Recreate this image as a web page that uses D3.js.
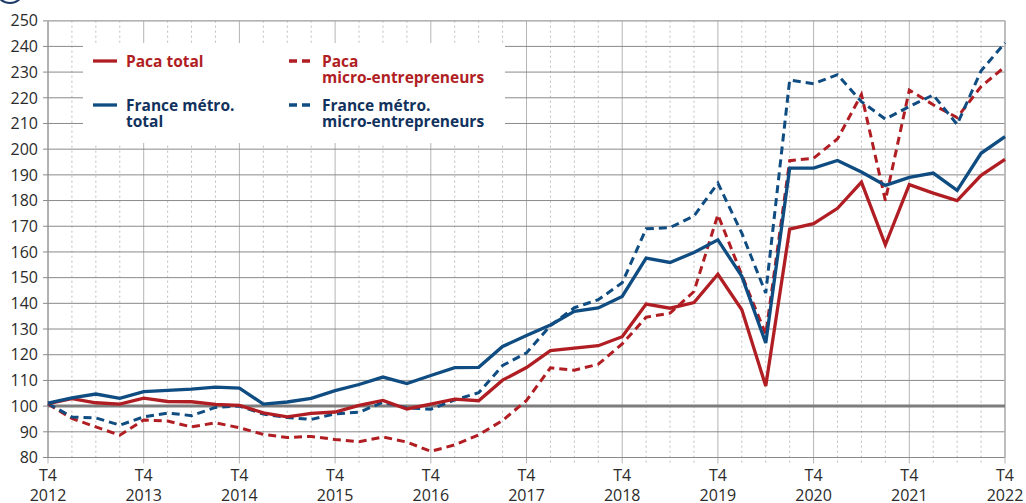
<!DOCTYPE html>
<html>
<head>
<meta charset="utf-8">
<script src="https://cdn.jsdelivr.net/npm/d3@7"></script>
<style>
    body { margin: 0; background: #fff; }
    text { font-family: "Open Sans", "Noto Sans", sans-serif; }
</style>
</head>
<body>
<div class="canvas"></div>
<script>
const periods = [
    '2012T4',
    '2013T1', '2013T2', '2013T3', '2013T4',
    '2014T1', '2014T2', '2014T3', '2014T4',
    '2015T1', '2015T2', '2015T3', '2015T4',
    '2016T1', '2016T2', '2016T3', '2016T4',
    '2017T1', '2017T2', '2017T3', '2017T4',
    '2018T1', '2018T2', '2018T3', '2018T4',
    '2019T1', '2019T2', '2019T3', '2019T4',
    '2020T1', '2020T2', '2020T3', '2020T4',
    '2021T1', '2021T2', '2021T3', '2021T4',
    '2022T1', '2022T2', '2022T3', '2022T4'
];

const pacaTotal = [
    101, 102.9, 101.3, 100.8, 103.1, 101.8, 101.7, 100.7, 100.3, 97.4,
    95.8, 97.2, 97.7, 100.3, 102.2, 98.9, 100.8, 102.7, 102.1, 110.1,
    115, 121.6, 122.6, 123.5, 127, 139.7, 138.1, 140.3, 151.3, 137.5,
    107.8, 168.9, 171, 177, 187.2, 162.8, 186.2, 182.9, 180, 189.8, 196
];

const pacaMicro = [
    100.8, 95.2, 91.9, 88.7, 94.6, 94.2, 91.9, 93.5, 91.6, 89,
    87.8, 88.2, 87, 86.1, 88, 86, 82.4, 84.9, 88.8, 94.4,
    102.2, 114.9, 114, 116.3, 124.2, 134.6, 136.2, 144.6, 174.5, 151,
    128, 195.5, 196.5, 204, 221.3, 180, 223, 217.3, 212.3, 224.4, 232.1
];

const franceTotal = [
    101.2, 103.2, 104.7, 103, 105.6, 106.1, 106.6, 107.4, 107, 100.8,
    101.6, 103, 106, 108.4, 111.3, 108.8, 111.9, 115, 115.1, 123.2,
    127.5, 131.6, 136.9, 138.2, 142.7, 157.6, 155.9, 159.8, 164.7, 150.5,
    124.6, 192.6, 192.6, 195.6, 191.1, 185.9, 189, 190.7, 184, 198.4, 204.9
];

const franceMicro = [
    101, 95.8, 95.4, 92.6, 95.8, 97.3, 96.3, 99.5, 100, 96.9,
    95.6, 94.8, 97, 97.6, 101.5, 99.3, 98.8, 102.4, 105.2, 115.8,
    120.7, 131.3, 138.3, 141.4, 148, 169, 169.5, 174, 186.8, 167.3,
    144, 226.9, 225.5, 229, 218.5, 211.7, 216.6, 221.1, 209.6, 230.5, 241.4
];

const yTicks = [80, 90, 100, 110, 120, 130, 140, 150, 160, 170, 180, 190, 200, 210, 220, 230, 240, 250];

const dims = { width: 1026, height: 503 };
const plot = { left: 48, right: 1005, top: 20.7, bottom: 457.5 };

const red = '#b01e23';
const blue = '#0f4c81';
const blueText = '#12325e';

const svg = d3.select('.canvas')
                .append('svg')
                .attr('width', dims.width)
                .attr('height', dims.height);

const x = d3.scaleLinear()
            .domain([0, periods.length - 1])
            .range([plot.left, plot.right]);

const y = d3.scaleLinear()
            .domain([80, 250])
            .range([plot.bottom, plot.top]);

// logo bit, cut at the top
svg.append('circle')
    .attr('cx', 10).attr('cy', -11).attr('r', 14)
    .attr('fill', 'none')
    .attr('stroke', '#1b3a68')
    .attr('stroke-width', 2);

// vertical grid: solid on T4, dotted for other quarters
const vgrid = svg.append('g');
periods.forEach((p, i) => {
    const isT4 = p.endsWith('T4');
    vgrid.append('line')
        .attr('x1', x(i)).attr('x2', x(i))
        .attr('y1', plot.top).attr('y2', plot.bottom + 6)
        .attr('stroke', isT4 ? '#b4b4b4' : '#bdbdbd')
        .attr('stroke-width', 1)
        .attr('stroke-dasharray', isT4 ? null : '2,3');
});

// horizontal grid
svg.append('g')
    .selectAll('line')
    .data(yTicks)
    .enter()
    .append('line')
        .attr('x1', plot.left - 5)
        .attr('x2', plot.right)
        .attr('y1', d => y(d))
        .attr('y2', d => y(d))
        .attr('stroke', '#8a8a8a')
        .attr('stroke-width', 1);

// frame
svg.append('line')
    .attr('x1', plot.left).attr('x2', plot.left)
    .attr('y1', plot.top).attr('y2', plot.bottom)
    .attr('stroke', '#8a8a8a');
svg.append('line')
    .attr('x1', plot.right).attr('x2', plot.right)
    .attr('y1', plot.top).attr('y2', plot.bottom)
    .attr('stroke', '#b4b4b4').attr('stroke-width', 1.5);
svg.append('line')
    .attr('x1', plot.left - 5).attr('x2', plot.right)
    .attr('y1', plot.top).attr('y2', plot.top)
    .attr('stroke', '#b4b4b4').attr('stroke-width', 1.5);

// base 100
svg.append('line')
    .attr('x1', plot.left).attr('x2', plot.right)
    .attr('y1', y(100)).attr('y2', y(100))
    .attr('stroke', '#7d7d7d')
    .attr('stroke-width', 3);

// y labels
svg.append('g')
    .selectAll('text')
    .data(yTicks)
    .enter()
    .append('text')
        .attr('x', 38)
        .attr('y', d => y(d))
        .attr('dy', '0.36em')
        .attr('text-anchor', 'end')
        .attr('font-size', 16)
        .attr('fill', '#2b2b2b')
        .text(d => d);

// x labels on T4 only
const xLabels = svg.append('g');
periods.forEach((p, i) => {
    if (!p.endsWith('T4')) return;
    const t = xLabels.append('text')
        .attr('text-anchor', 'middle')
        .attr('font-size', 16)
        .attr('fill', '#2b2b2b');
    t.append('tspan').attr('x', x(i)).attr('y', 481).text('T4');
    t.append('tspan').attr('x', x(i)).attr('y', 500.5).text(p.slice(0, 4));
});

// legend background
svg.append('rect')
    .attr('x', 83).attr('y', 43)
    .attr('width', 422).attr('height', 100)
    .attr('fill', '#fff');

const series = [
    { name: 'pacaMicro', values: pacaMicro, color: red, dash: '8,5', width: 3 },
    { name: 'franceMicro', values: franceMicro, color: blue, dash: '8,5', width: 3 },
    { name: 'pacaTotal', values: pacaTotal, color: red, dash: null, width: 3.3 },
    { name: 'franceTotal', values: franceTotal, color: blue, dash: null, width: 3.3 }
];

const line = d3.line()
                .x((d, i) => x(i))
                .y(d => y(d));

svg.append('g')
    .selectAll('path')
    .data(series)
    .enter()
    .append('path')
        .attr('d', d => line(d.values))
        .attr('fill', 'none')
        .attr('stroke', d => d.color)
        .attr('stroke-width', d => d.width)
        .attr('stroke-dasharray', d => d.dash)
        .attr('stroke-linejoin', 'miter');

// legend
const legendItems = [
    { lines: ['Paca total'], color: red, text: red, dash: null, x: 93, y: 61 },
    { lines: ['Paca', 'micro-entrepreneurs'], color: red, text: red, dash: '8,5', x: 289, y: 61 },
    { lines: ['France métro.', 'total'], color: blue, text: blueText, dash: null, x: 93, y: 105 },
    { lines: ['France métro.', 'micro-entrepreneurs'], color: blue, text: blueText, dash: '8,5', x: 289, y: 105 }
];

const legend = svg.append('g');
legendItems.forEach(item => {
    legend.append('line')
        .attr('x1', item.x).attr('x2', item.x + 24)
        .attr('y1', item.y).attr('y2', item.y)
        .attr('stroke', item.color)
        .attr('stroke-width', 3.3)
        .attr('stroke-dasharray', item.dash);
    const t = legend.append('text')
        .attr('font-size', 15.5)
        .attr('font-weight', 'bold')
        .attr('fill', item.text);
    item.lines.forEach((l, k) => {
        t.append('tspan')
            .attr('x', item.x + 33)
            .attr('y', item.y + 5.5 + k * 16)
            .text(l);
    });
});
</script>
</body>
</html>
